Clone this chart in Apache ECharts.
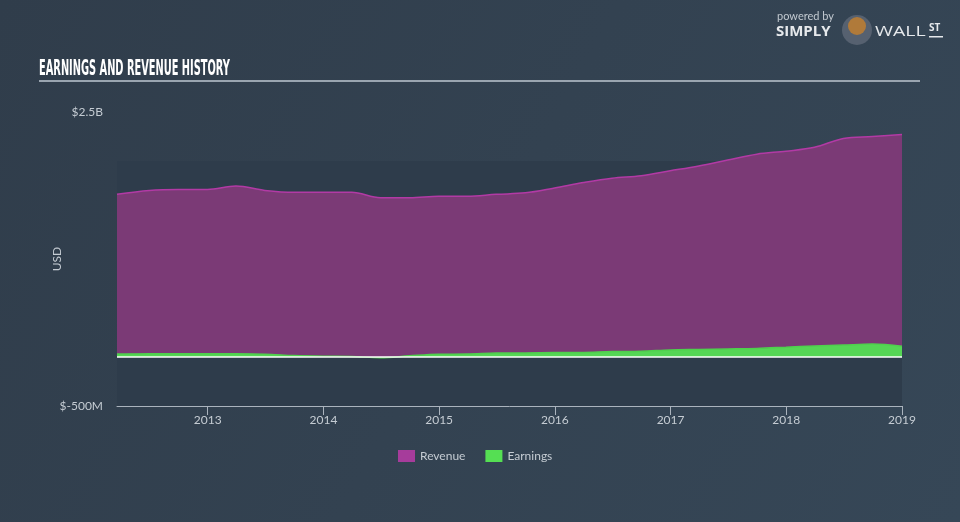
<!DOCTYPE html>
<html>
<head>
<meta charset="utf-8">
<script src="https://cdn.jsdelivr.net/npm/echarts@6/dist/echarts.min.js"></script>
<style>
html,body{margin:0;padding:0;background:#334251;}
#chart{width:960px;height:522px;}
</style>
</head>
<body>
<div id="chart"></div>
<script>
const dates = ['2012-03-20','2012-06-30','2012-09-30','2012-12-31','2013-03-31','2013-06-30','2013-09-30','2013-12-31','2014-03-31','2014-06-30','2014-09-30','2014-12-31','2015-03-31','2015-06-30','2015-09-30','2015-12-31','2016-03-31','2016-06-30','2016-09-30','2016-12-31','2017-03-31','2017-06-30','2017-09-30','2017-12-31','2018-03-31','2018-06-30','2018-09-30','2019-01-01'];
// values in billions USD
const revenue = [1.66,1.70,1.71,1.71,1.745,1.70,1.68,1.68,1.68,1.625,1.625,1.64,1.64,1.66,1.675,1.725,1.78,1.825,1.85,1.90,1.95,2.01,2.07,2.10,2.14,2.23,2.25,2.27];
const earnings = [0.030,0.032,0.033,0.032,0.032,0.028,0.015,0.008,0.005,-0.008,0.012,0.028,0.030,0.040,0.042,0.045,0.047,0.055,0.058,0.072,0.077,0.082,0.088,0.100,0.112,0.122,0.132,0.110];
const yearTicks = [2013,2014,2015,2016,2017,2018,2019];
const yLabelValues = [-0.5, 2.5];
const yLabelText = {'-0.5':'$-500M','2.5':'$2.5B'};

// convert a date string to a decimal year (position on the x value axis)
const decYear = d => {
  const p = d.split('-').map(Number);
  const t = Date.UTC(p[0], p[1]-1, p[2]);
  const s = Date.UTC(p[0],0,1), e = Date.UTC(p[0]+1,0,1);
  return p[0] + (t - s) / (e - s);
};
const revData = dates.map((d,i)=>[decYear(d), revenue[i]]);
const earnData = dates.map((d,i)=>[decYear(d), earnings[i]]);

const chart = echarts.init(document.getElementById('chart'));
const labelColor = '#c5ccd3';
chart.setOption({
  backgroundColor: {type:'linear',x:0,y:0,x2:1,y2:1,colorStops:[{offset:0,color:'#303d4b'},{offset:1,color:'#364757'}]},
  animation:false,
  grid:{left:117,right:58,top:112,bottom:116},
  legend:{
    data:[{name:'Revenue',itemStyle:{color:'#a63c9b'}},{name:'Earnings',itemStyle:{color:'#55df53'}}],
    left:393, top:445, icon:'rect', itemWidth:17, itemHeight:12, itemGap:20,
    textStyle:{color:labelColor,fontSize:12,fontFamily:'Lato, Roboto, sans-serif'}
  },
  xAxis:{
    type:'value',
    min: revData[0][0], max: revData[revData.length-1][0],
    axisLine:{show:true,onZero:false,lineStyle:{color:'#aab3bd',width:1}},
    axisTick:{show:true,customValues:yearTicks,length:9,inside:false,lineStyle:{color:'#aab3bd'}},
    axisLabel:{customValues:yearTicks,color:labelColor,fontSize:12,fontFamily:'Lato, Roboto, sans-serif',margin:8,
      formatter:v=>String(Math.round(v))},
    splitLine:{show:false}
  },
  yAxis:{
    type:'value', min:-0.5, max:2.5, interval:0.5,
    name:'USD', nameLocation:'middle', nameGap:54, nameRotate:90, nameMoveOverlap:false,
    nameTextStyle:{color:labelColor,fontSize:12,fontFamily:'Lato, Roboto, sans-serif'},
    axisLine:{show:false}, axisTick:{show:false}, splitLine:{show:false},
    axisLabel:{customValues:yLabelValues,color:labelColor,fontSize:12,fontFamily:'Lato, Roboto, sans-serif',margin:14,
      formatter:v=>yLabelText[String(v)]||''}
  },
  series:[
    {
      name:'band', type:'line', data:[[revData[0][0], null]], z:0, silent:true, symbol:'none',
      markArea:{silent:true,itemStyle:{color:'#2e3c4b'},data:[[{yAxis:-0.5},{yAxis:2.0}]]}
    },
    {
      name:'Revenue', type:'line', data:revData, smooth:0.35, symbol:'none', z:2,
      lineStyle:{color:'#b23aa5',width:1.5},
      areaStyle:{color:'#7b3a76',opacity:1},
      itemStyle:{color:'#a63c9b'}
    },
    {
      name:'Earnings', type:'line', data:earnData, smooth:0.35, symbol:'none', z:3,
      lineStyle:{color:'#4fd04d',width:1.5},
      areaStyle:{color:'#55d655',opacity:1},
      itemStyle:{color:'#55df53'},
      markLine:{silent:true,symbol:'none',label:{show:false},lineStyle:{color:'#ffffff',width:1.5,type:'solid'},data:[{yAxis:0}]}
    }
  ],
  graphic:[
    {type:'text',x:39,y:59,scaleX:0.78,scaleY:1.5,style:{text:'EARNINGS AND REVENUE HISTORY',fill:'#ffffff',font:'bold 14px "Liberation Sans Narrow", "DejaVu Sans Condensed", sans-serif',textVerticalAlign:'top'}},
    {type:'rect',shape:{x:39,y:80,width:881,height:2},style:{fill:'#9aa5b0'}},
    {type:'text',left:777,top:11,style:{text:'powered by',fill:'#c2c9d0',font:'11px Lato, Roboto, sans-serif'}},
    {type:'text',left:776,top:24,style:{text:'SIMPLY',fill:'#e6e9ec',font:'bold 15px "Open Sans", Roboto, sans-serif'}},
    {type:'circle',shape:{cx:857,cy:30,r:15},style:{fill:'#566170'}},
    {type:'circle',shape:{cx:857,cy:26,r:9},style:{fill:'#b07a3a'}},
    {type:'text',x:875,y:24,scaleX:1.3,style:{text:'WALL',fill:'#e6e9ec',font:'15px "Open Sans", Roboto, sans-serif',textVerticalAlign:'top'}},
    {type:'text',left:929,top:23,style:{text:'ST',fill:'#e6e9ec',font:'bold 10px "Open Sans", Roboto, sans-serif'}},
    {type:'rect',shape:{x:929,y:36,width:14,height:1.5},style:{fill:'#e6e9ec'}}
  ]
});
</script>
</body>
</html>
